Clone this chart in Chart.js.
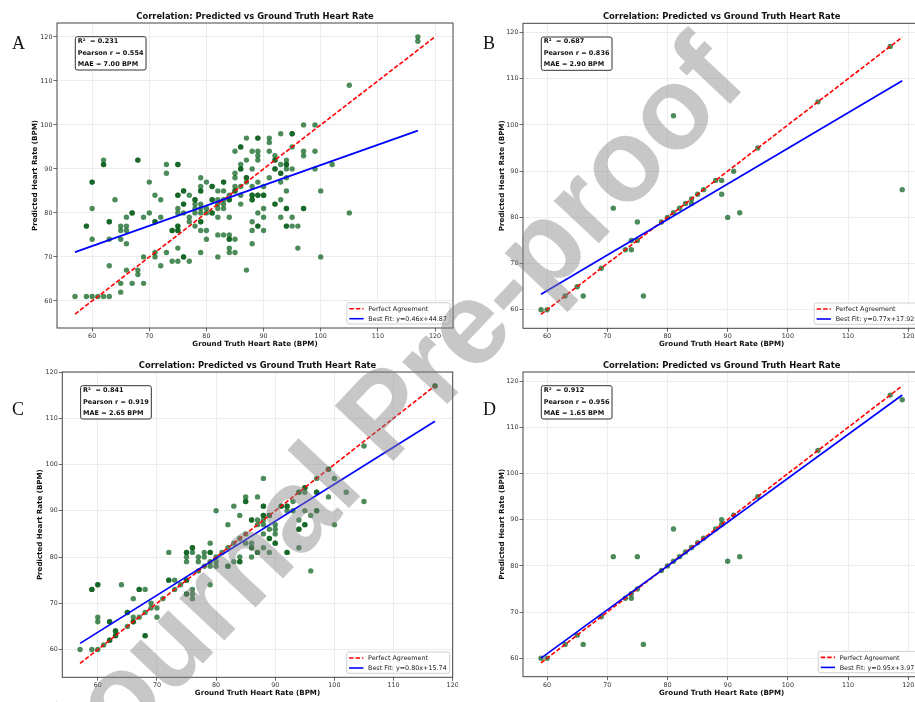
<!DOCTYPE html>
<html>
<head>
<meta charset="utf-8">
<script src="https://cdn.jsdelivr.net/npm/chart.js@4.4.0/dist/chart.umd.min.js"></script>
<style>
  html, body { margin: 0; padding: 0; background: #fff; width: 915px; height: 702px; overflow: hidden; }
  body { position: relative; }
  canvas { position: absolute; }
  .tag { position: absolute; font-family: "Liberation Serif", "DejaVu Serif", serif; font-size: 18px; line-height: 18px; color: #111; }
  #wm { pointer-events: none; z-index: 10; }
</style>
</head>
<body>
<canvas id="cA" width="458" height="352" style="left:0;top:0"></canvas>
<canvas id="cB" width="465" height="352" style="left:458px;top:0"></canvas>
<canvas id="cC" width="458" height="352" style="left:0;top:350px"></canvas>
<canvas id="cD" width="465" height="352" style="left:458px;top:350px"></canvas>
<div class="tag" style="left:12px;top:34px">A</div>
<div class="tag" style="left:483px;top:34px">B</div>
<div class="tag" style="left:12px;top:400px">C</div>
<div class="tag" style="left:483px;top:400px">D</div>
<canvas id="wm" width="915" height="702" style="left:0;top:0"></canvas>
<script>
const FONT = '"DejaVu Sans", sans-serif';
const tickValues = [60, 70, 80, 90, 100, 110, 120];
const xLabel = 'Ground Truth Heart Rate (BPM)';
const yLabel = 'Predicted Heart Rate (BPM)';
const title = 'Correlation: Predicted vs Ground Truth Heart Rate';

// panel A
const truthA = [
  57, 59,59,59, 60,60,60,60,60, 61, 62,62,62,62, 63,63,63,63,63, 64,
  65,65,65,65,65, 66,66,66,66,66, 67,67,67, 68,68,68,68, 69,69,69, 70,70,
  71,71,71,71,71, 72,72,72, 73,73,73, 74,74,74,
  75,75,75,75,75,75,75,75,75,75,75,75, 76,76,76,76,76,76,76, 77,77,77,77,
  78,78,78,78,78,78, 79,79,79,79,79,79,79,79,79,79,79, 80,80,80,80,80,
  81,81,81,81,81,81, 82,82,82,82,82,82,82, 83,83,83,83,83,83,83,
  84,84,84,84,84,84,84,84,84, 85,85,85,85,85,85,85,85, 86,86,86,86,86,86,86,86,
  87,87,87,87,87,87, 88,88,88,88,88,88,88,88,88,88, 89,89,89,89,89,89,89,89,89,89,89,
  90,90,90,90,90,90, 91,91,91,91, 92,92,92,92,92,92,92, 93,93,93,93,93,93,93,
  94,94,94,94,94,94,94,94,94,94, 95,95,95,95,95,95, 96,96, 97,97,97,97,97,
  99,99,99, 100,100, 102, 105,105, 117,117
];
const predA = [
  61, 61,77,77, 61,87,87,81,74, 61, 61,92,91,91, 61,78,78,74,68, 83,
  77,76,74,64,62, 79,77,76,73,67, 80,80,64, 92,92,67,66, 79,70,64, 87,80,
  84,78,78,71,70, 83,79,68, 91,89,71, 76,76,69,
  91,91,84,84,81,80,77,77,76,76,72,69, 85,85,82,82,80,70,70, 84,79,78,69,
  83,83,82,81,80,77, 88,86,85,85,82,81,80,78,78,76,71, 87,81,80,76,74,
  86,86,83,83,80,80, 85,83,82,81,79,75,70, 87,87,85,83,82,81,75,
  84,83,83,79,75,74,74,72,71, 94,89,88,86,85,85,74,71, 95,95,91,90,90,86,84,82,
  97,92,88,88,87,67, 94,90,86,84,84,83,83,78,76,73, 97,97,94,93,92,87,84,84,80,77,77,
  86,84,84,81,79,76, 97,96,94,88, 93,92,92,90,90,82,82, 98,91,89,89,87,83,79,
  92,91,91,90,88,85,81,81,77,77, 98,98,95,90,79,77, 77,72, 100,94,93,81,81,
  100,94,90, 85,70, 91, 109,80, 120,119
];
const fitA = [0.46, 44.87];
const statsA = ['0.231', '0.554', '7.00'];

// panel B
const truthB = [59, 60, 63, 65, 66, 69, 71, 73, 74,74, 75,75, 76, 79, 80, 81,81, 82, 83, 84,84, 85, 86, 88, 89,89, 90, 91, 92, 95, 105, 117, 119];
const predB  = [60, 60, 63, 65, 63, 69, 82, 73, 75,73, 79,75, 63, 79, 80, 102,81, 82, 83, 84,83, 85, 86, 88, 88,85, 80, 90, 81, 95, 105, 117, 86];
const fitB = [0.77, 17.92];
const statsB = ['0.687', '0.836', '2.90'];

// panel C
const truthC = [
  57, 59,59,59, 60,60,60,60,60, 61, 62,62,62,62, 63,63,63,63, 64, 65,65,65,
  66,66,66,66, 67,67,67, 68,68,68,68, 69,69, 70,70, 71, 72,72,72, 73,73, 74,
  75,75,75,75,75,75,75,75, 76,76,76,76,76,76, 77,77,77, 78,78,78,
  79,79,79,79,79,79, 80,80,80,80, 81, 82,82,82,82, 83,83,83, 84,84,84,84,84,
  85,85,85,85,85, 86,86,86,86,86,86, 87,87,87,87,87, 88,88,88,88,88,88,88,88,88,
  89,89,89,89,89,89, 90,90,90,90,90, 91,91, 92,92,92,92,92, 93,93,
  94,94,94,94,94,94, 95,95,95,95,95,95, 96,96, 97,97,97,97,97, 99,99,99,
  100,100, 102, 105,105, 117,117
];
const predC = [
  60, 73,73,60, 74,74,67,66,60, 61, 66,66,62,62, 64,64,63,63, 74, 68,68,65,
  71,67,66,66, 73,73,67, 73,68,63,63, 70,69, 69,67, 71, 81,75,75, 75,73, 74,
  81,81,80,79,75,75,72,72, 82,82,81,73,72,71, 80,79,77, 81,80,78,
  83,81,81,79,78,74, 90,80,79,78, 81, 87,82,78,78, 91,83,79, 89,84,80,79,79,
  93,92,92,85,83, 88,88,83,82,82,80, 93,88,87,81,81, 97,91,91,89,89,88,87,85,82,
  89,89,86,84,84,81, 87,86,85,83,83, 91,91, 91,91,90,81,81, 92,90,
  94,94,88,86,86,82, 95,95,94,90,87,87, 89,77, 97,94,94,90,90, 99,99,93,
  97,87, 94, 104,92, 117,117
];
const fitC = [0.80, 15.74];
const statsC = ['0.841', '0.919', '2.65'];

// panel D
const truthD = [59, 60, 63, 65, 66, 69, 71, 73, 74,74, 75,75, 76, 79, 80, 81,81, 82, 83, 84, 85, 86, 88, 89,89, 90, 91, 92, 95, 105, 117, 119];
const predD  = [60, 60, 63, 65, 63, 69, 82, 73, 74,73, 82,75, 63, 79, 80, 88,81, 82, 83, 84, 85, 86, 88, 90,89, 81, 91, 82, 95, 105, 117, 116];
const fitD = [0.95, 3.97];
const statsD = ['0.912', '0.956', '1.65'];

function roundRect(ctx, x, y, w, h, r) {
  ctx.beginPath();
  ctx.moveTo(x + r, y);
  ctx.arcTo(x + w, y, x + w, y + h, r);
  ctx.arcTo(x + w, y + h, x, y + h, r);
  ctx.arcTo(x, y + h, x, y, r);
  ctx.arcTo(x, y, x + w, y, r);
  ctx.closePath();
}

// frame, title, stats box and legend, drawn like matplotlib does
const decor = {
  id: 'decor',
  afterDraw(chart, args, o) {
    const ctx = chart.ctx;
    const a = chart.chartArea;
    ctx.save();
    ctx.strokeStyle = '#444';
    ctx.lineWidth = 1;
    ctx.strokeRect(a.left, a.top, a.right - a.left, a.bottom - a.top);

    ctx.fillStyle = '#111';
    ctx.font = 'bold 8.4px ' + FONT;
    ctx.textAlign = 'center';
    ctx.textBaseline = 'alphabetic';
    ctx.fillText(title, (a.left + a.right) / 2, a.top - 4);

    // stats box
    const lines = ['R\u00B2  = ' + o.stats[0], 'Pearson r = ' + o.stats[1], 'MAE = ' + o.stats[2] + ' BPM'];
    ctx.font = 'bold 6.5px ' + FONT;
    const tw = Math.max(...lines.map(l => ctx.measureText(l).width));
    const bx = a.left + 18.3, by = a.top + 13.7;
    roundRect(ctx, bx, by, tw + 5, 33.3, 2);
    ctx.fillStyle = 'rgba(255,255,255,0.85)';
    ctx.fill();
    ctx.strokeStyle = '#333';
    ctx.stroke();
    ctx.fillStyle = '#111';
    ctx.textAlign = 'left';
    ctx.textBaseline = 'middle';
    [4.8, 16.4, 27.6].forEach((dy, i) => ctx.fillText(lines[i], bx + 2.4, by + dy));

    // legend
    const items = [['Perfect Agreement', 'red', [4.5, 2]], ['Best Fit: ' + o.fit, 'blue', []]];
    ctx.font = '6.4px ' + FONT;
    const lw = Math.max(...items.map(t => ctx.measureText(t[0]).width));
    const w = 2.4 + 14.3 + 4.7 + lw + 3;
    const h = 21.3;
    const lx = a.right - 3 - w, ly = a.bottom - 4 - h;
    roundRect(ctx, lx, ly, w, h, 2);
    ctx.fillStyle = 'rgba(255,255,255,0.85)';
    ctx.fill();
    ctx.strokeStyle = '#d0d0d0';
    ctx.stroke();
    items.forEach((t, i) => {
      const cy = ly + 6 + i * 10;
      ctx.strokeStyle = t[1];
      ctx.lineWidth = 1.6;
      ctx.setLineDash(t[2]);
      ctx.beginPath();
      ctx.moveTo(lx + 2.4, cy);
      ctx.lineTo(lx + 16.7, cy);
      ctx.stroke();
      ctx.setLineDash([]);
      ctx.fillStyle = '#222';
      ctx.fillText(t[0], lx + 21.4, cy + 0.5);
    });
    ctx.restore();
  }
};

function makePanel(id, truth, pred, fit, stats, g) {
  const all = truth.concat(pred);
  const lo = Math.min(...all), hi = Math.max(...all);
  const m = (hi - lo) * 0.05;
  const x0 = Math.min(...truth), x1 = Math.max(...truth);
  const fitLabel = 'y=' + fit[0].toFixed(2) + 'x+' + fit[1].toFixed(2);
  const axis = (fitSize, titlePad) => ({
    type: 'linear',
    min: lo - m,
    max: hi + m,
    afterBuildTicks: s => { s.ticks = tickValues.map(v => ({ value: v })); },
    afterFit: s => { fitSize(s); s.paddingLeft = s.paddingRight = s.paddingTop = s.paddingBottom = 0; },
    grid: { color: '#e8e8e8', lineWidth: 0.8, tickColor: '#444', tickLength: 3.5 },
    border: { display: false },
    ticks: { color: '#333', padding: 1, maxRotation: 0, font: { family: FONT, size: 6.4 } },
    title: { display: true, color: '#111', padding: titlePad, font: { family: FONT, size: 7.1, weight: 'bold' } }
  });
  const xs = axis(s => { s.height = g.xh; }, { top: 0, bottom: g.xt });
  xs.title.text = xLabel;
  const ys = axis(s => { s.width = g.yw; }, { top: g.yt, bottom: 0 });
  ys.title.text = yLabel;

  return new Chart(document.getElementById(id), {
    type: 'scatter',
    data: {
      datasets: [
        {
          data: [{ x: x0, y: fit[0] * x0 + fit[1] }, { x: x1, y: fit[0] * x1 + fit[1] }],
          showLine: true, borderColor: 'blue', borderWidth: 1.7, pointRadius: 0
        },
        {
          data: [{ x: lo, y: lo }, { x: hi, y: hi }],
          showLine: true, borderColor: 'red', borderWidth: 1.6, borderDash: [4.5, 2], pointRadius: 0
        },
        {
          data: truth.map((x, i) => ({ x: x, y: pred[i] })),
          backgroundColor: 'rgba(0,90,20,0.7)', borderWidth: 0, pointRadius: 2.7, pointHoverRadius: 2.7
        }
      ]
    },
    options: {
      responsive: false,
      animation: false,
      events: [],
      layout: { padding: { left: 0, top: g.top, right: g.right, bottom: 0 } },
      plugins: {
        legend: { display: false },
        tooltip: { enabled: false },
        decor: { stats: stats, fit: fitLabel }
      },
      scales: { x: xs, y: ys }
    },
    plugins: [decor]
  });
}

makePanel('cA', truthA, predA, fitA, statsA, { top: 23, right: 5, yw: 57, xh: 24, xt: 3.7, yt: 30.7 });
makePanel('cB', truthB, predB, fitB, statsB, { top: 23.3, right: 2.6, yw: 65, xh: 23.7, xt: 3.7, yt: 39.4 });
makePanel('cC', truthC, predC, fitC, statsC, { top: 22, right: 5.3, yw: 62.3, xh: 24.7, xt: 5, yt: 35.7 });
makePanel('cD', truthD, predD, fitD, statsD, { top: 22, right: 2.6, yw: 65, xh: 25.3, xt: 5, yt: 39.4 });

// "Journal Pre-proof" watermark across the figure
const wm = document.getElementById('wm').getContext('2d');
wm.font = 'bold 117px "Liberation Sans", Arial, sans-serif';
wm.fillStyle = 'rgba(130,130,130,0.45)';
wm.translate(76, 798);
wm.rotate(-46.7 * Math.PI / 180);
wm.fillText('Journal Pre-proof', 0, 0);
</script>
</body>
</html>
